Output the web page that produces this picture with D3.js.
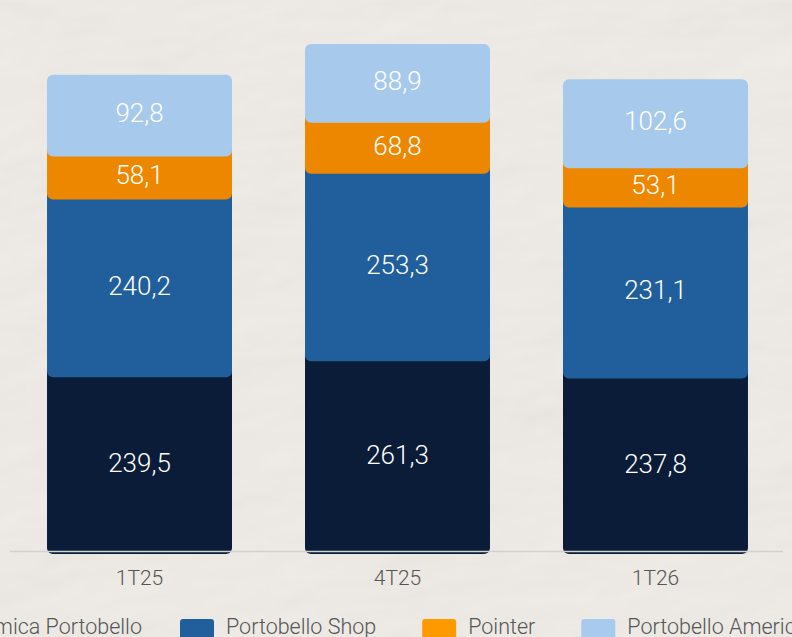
<!DOCTYPE html>
<html>
<head>
<meta charset="utf-8">
<script src="https://cdn.jsdelivr.net/npm/d3@7"></script>
<style>
  html, body { margin: 0; padding: 0; background: #f2efea; }
  svg { display: block; font-family: "Roboto Light", Roboto, "Noto Sans", sans-serif; }
</style>
</head>
<body>
<svg id="chart" width="792" height="637"></svg>
<script>
// periods on the x axis
var categories = ['1T25', '4T25', '1T26'];
// series, bottom to top
var seriesNames = ['Cerâmica Portobello', 'Portobello Shop', 'Pointer', 'Portobello America'];
var ceramica = [239.5, 261.3, 237.8];
var shop = [240.2, 253.3, 231.1];
var pointer = [58.1, 68.8, 53.1];
var america = [92.8, 88.9, 102.6];
var totalLabels = ['591,9¹', '642,4¹', '597,2¹'];

var barColors = ['#0a1c38', '#215f9c', '#ee8700', '#a6c9ec'];
var legendColors = ['#0a1c38', '#215f9c', '#fe9a00', '#a7caee'];

var width = 792, height = 637;
var overlap = 13;   // each segment runs up under the one above it
var fmt = function(v) { return d3.format('.1f')(v).replace('.', ','); };

var svg = d3.select('#chart');

/* paper-like background */
var defs = svg.append('defs');
var paper = defs.append('filter').attr('id', 'paper')
  .attr('x', 0).attr('y', 0).attr('width', '100%').attr('height', '100%');
paper.append('feTurbulence').attr('type', 'fractalNoise')
  .attr('baseFrequency', '0.005 0.01').attr('numOctaves', 4).attr('seed', 7).attr('result', 'noise');
paper.append('feDiffuseLighting').attr('in', 'noise').attr('surfaceScale', 4)
  .attr('lighting-color', '#f6f3ee').attr('result', 'light')
  .append('feDistantLight').attr('azimuth', 225).attr('elevation', 60);

svg.append('rect').attr('width', width).attr('height', height).attr('fill', '#f1eee9');
svg.append('rect').attr('width', width).attr('height', height)
  .attr('filter', 'url(#paper)').attr('opacity', 0.45);

// build the stack from the named arrays
var rows = categories.map(function(c, i) {
  return { cat: c, s0: ceramica[i], s1: shop[i], s2: pointer[i], s3: america[i] };
});
var stack = d3.stack().keys(['s0', 's1', 's2', 's3'])(rows);

var x = d3.scaleBand().domain(categories).range([10, 785])
  .paddingInner(0.283).paddingOuter(0.1435);
var y = d3.scaleLinear().domain([0, 700]).range([554.5, 36.5]);

var g = svg.append('g');

stack.forEach(function(layer, li) {
  var isTop = li === stack.length - 1;
  var lg = g.append('g');
  lg.selectAll('rect').data(layer).enter().append('rect')
    .attr('x', function(d) { return x(d.data.cat); })
    .attr('y', function(d) { return y(d[1]) - overlap; })
    .attr('width', x.bandwidth())
    .attr('height', function(d) { return y(d[0]) - y(d[1]) + overlap - (li === 0 ? 0.5 : 0); })
    .attr('rx', 6).attr('ry', 6)
    .attr('fill', barColors[li]);

  lg.selectAll('text').data(layer).enter().append('text')
    .attr('x', function(d) { return x(d.data.cat) + x.bandwidth() / 2; })
    .attr('y', function(d) {
      var top = isTop ? y(d[1]) - overlap : y(d[1]);
      return (top + y(d[0])) / 2 - 3;
    })
    .attr('dy', '0.36em')
    .attr('text-anchor', 'middle')
    .attr('fill', '#ffffff')
    .style('font-size', '26px').style('font-weight', 300)
    .text(function(d) { return fmt(d[1] - d[0]); });
});

// totals above each bar
var top = stack[stack.length - 1];
g.selectAll('.total').data(top).enter().append('text')
  .attr('class', 'total')
  .attr('x', function(d) { return x(d.data.cat) + x.bandwidth() / 2; })
  .attr('y', function(d) { return y(d[1]) - overlap - 15; })
  .attr('text-anchor', 'middle')
  .attr('fill', '#3f3f3f')
  .style('font-size', '26px').style('font-weight', 300)
  .text(function(d, i) { return totalLabels[i]; });

// baseline
svg.append('line')
  .attr('x1', 10).attr('x2', 783)
  .attr('y1', 551.5).attr('y2', 551.5)
  .attr('stroke', '#d2d1cf').attr('stroke-width', 1.6);

// category axis
var xAxis = svg.append('g').attr('transform', 'translate(0,570)')
  .call(d3.axisBottom(x).tickSize(0).tickPadding(0));
xAxis.select('.domain').remove();
xAxis.selectAll('text')
  .attr('fill', '#555555')
  .attr('dy', '0.71em')
  .style('font-size', '21px').style('font-weight', 300)
  .style('font-family', '"Roboto Light", Roboto, sans-serif');

/* legend, flowed left to right; the first item runs off the left edge */
var legend = svg.append('g').attr('transform', 'translate(0,619)');
var items = legend.selectAll('g').data(seriesNames).enter().append('g');
items.append('rect')
  .attr('width', 34).attr('height', 24).attr('rx', 3).attr('ry', 3)
  .attr('fill', function(d, i) { return legendColors[i]; });
items.append('text')
  .attr('x', 46).attr('y', 15)
  .attr('fill', '#555555')
  .style('font-size', '21.5px').style('font-weight', 300)
  .text(function(d) { return d; });

var widths = [];
items.select('text').each(function() { widths.push(this.getComputedTextLength()); });
var gap = 46;
var cx = 180 - 38 - widths[0] - 46;
items.attr('transform', function(d, i) {
  var pos = cx;
  cx += 46 + widths[i] + (i === 0 ? 38 : gap);
  return 'translate(' + pos + ',0)';
});
</script>
</body>
</html>
